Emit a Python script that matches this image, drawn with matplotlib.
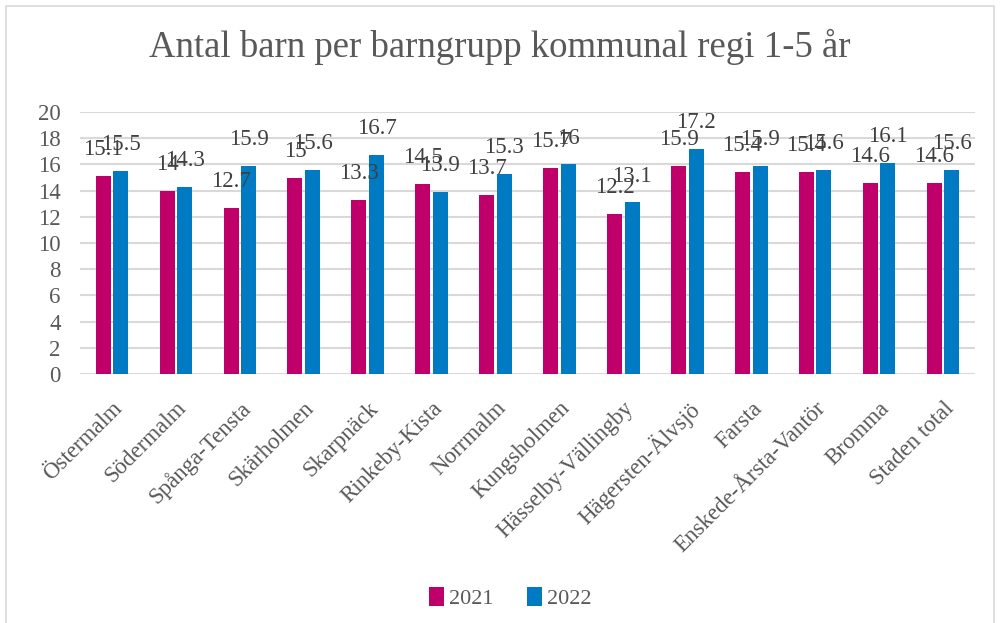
import numpy as np
import matplotlib.pyplot as plt
from matplotlib.patches import Rectangle

plt.rcParams['font.family'] = ['Liberation Serif', 'DejaVu Serif']

# data
stadsdelar = ['Östermalm', 'Södermalm', 'Spånga-Tensta', 'Skärholmen', 'Skarpnäck',
              'Rinkeby-Kista', 'Norrmalm', 'Kungsholmen', 'Hässelby-Vällingby',
              'Hägersten-Älvsjö', 'Farsta', 'Enskede-Årsta-Vantör', 'Bromma', 'Staden total']
v2021 = [15.1, 14, 12.7, 15, 13.3, 14.5, 13.7, 15.7, 12.2, 15.9, 15.4, 15.4, 14.6, 14.6]
v2022 = [15.5, 14.3, 15.9, 15.6, 16.7, 13.9, 15.3, 16, 13.1, 17.2, 15.9, 15.6, 16.1, 15.6]
yticks = list(range(0, 21, 2))

c2021 = '#C0006A'
c2022 = '#007AC2'
txt = '#595959'

fig = plt.figure(figsize=(10, 6.23), dpi=100)
ax = fig.add_axes([0.08, 0.3997, 0.895, 0.4205])

x = np.arange(len(stadsdelar))
w = 0.235
b1 = ax.bar(x - w/2 - 0.02, v2021, w, color=c2021, label='2021', zorder=3)
b2 = ax.bar(x + w/2 + 0.02, v2022, w, color=c2022, label='2022', zorder=3)

for bars, vals in ((b1, v2021), (b2, v2022)):
    for r, v in zip(bars, vals):
        ax.annotate(f'{v:g}', (r.get_x() + r.get_width()/2, v), xytext=(0, 19),
                    textcoords='offset points', ha='center', va='center',
                    fontsize=16.5, color='#404040')

ax.set_ylim(0, 20)
ax.set_xlim(-0.5, len(stadsdelar) - 0.5)
ax.set_yticks(yticks)
ax.set_xticks(x)
ax.set_xticklabels(stadsdelar, rotation=45, ha='right', rotation_mode='anchor')
ax.tick_params(axis='both', length=0, labelsize=16.5, labelcolor=txt)
ax.tick_params(axis='x', pad=17)
ax.tick_params(axis='y', pad=14)
ax.grid(axis='y', color='#d9d9d9', linewidth=1.5, zorder=0)
for s in ax.spines.values():
    s.set_visible(False)

fig.text(0.5, 0.925, 'Antal barn per barngrupp kommunal regi 1-5 år', ha='center',
         va='center', fontsize=26.5, color=txt)

fig.legend(handles=[b1, b2], loc='center', bbox_to_anchor=(0.51, 0.04), ncol=2,
           frameon=False, fontsize=16, handlelength=0.7, handleheight=0.9,
           handletextpad=0.2, columnspacing=1.5, labelcolor=txt)

fig.patches.append(Rectangle((0.006, -0.01), 0.988, 1.0, transform=fig.transFigure,
                             fill=False, edgecolor='#d9d9d9', linewidth=1.2))

fig.savefig('out.png', dpi=100)
